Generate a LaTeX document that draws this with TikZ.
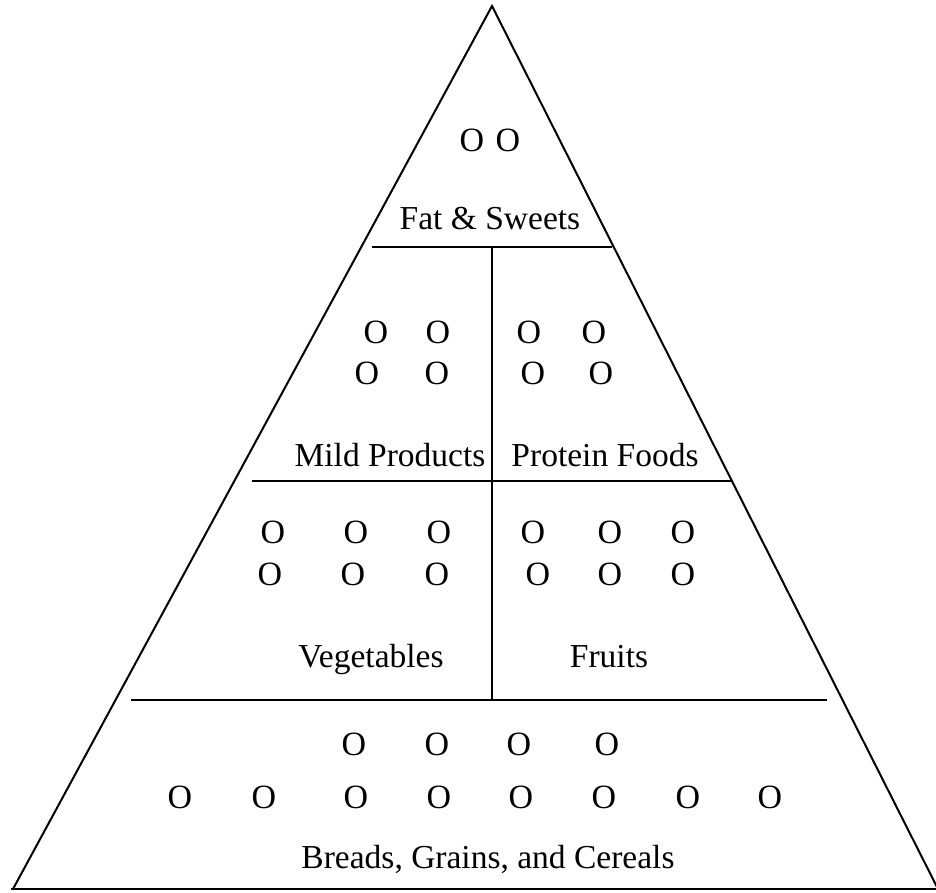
\documentclass[tikz,border=0pt]{standalone}
\usepackage{fontspec}
\setmainfont{Liberation Serif}
\begin{document}
\begin{tikzpicture}[x=1pt,y=-1pt,
  edge/.style={line width=2pt, line cap=butt},
  lbl/.style={inner sep=0pt, anchor=base, font=\fontsize{33.5}{40}\selectfont},
  oo/.style={inner sep=0pt, anchor=center, font=\fontsize{34}{40}\selectfont}]
\useasboundingbox (0,0) rectangle (936,892);
% triangle corners
\coordinate (apex) at (492,6);
\coordinate (bl) at (13,889);
\coordinate (br) at (938,889);
\coordinate (be) at (936,889);
\coordinate (bs) at (11,889);
\draw[edge, line join=miter] (bl) -- (apex) -- (br);
\draw[edge] (bs) -- (be);
% dividers
\coordinate (h1a) at (372,247); \coordinate (h1b) at (612,247);
\coordinate (h2a) at (252,481); \coordinate (h2b) at (733,481);
\coordinate (h3a) at (131,700); \coordinate (h3b) at (827,700);
\coordinate (v1) at (492,247); \coordinate (v2) at (492,700);
\draw[edge] (h1a) -- (h1b);
\draw[edge] (h2a) -- (h2b);
\draw[edge] (h3a) -- (h3b);
\draw[edge] (v1) -- (v2);
% top
\node[oo] (t1) at (472,140) {O};
\node[oo] (t2) at (508,140) {O};
\node[lbl] (fat) at (490,229) {Fat \& Sweets};
% row 2
\node[oo] (a1) at (376,332) {O};
\node[oo] (a2) at (438,332) {O};
\node[oo] (a3) at (367,373) {O};
\node[oo] (a4) at (437,373) {O};
\node[oo] (b1) at (529,332) {O};
\node[oo] (b2) at (594,332) {O};
\node[oo] (b3) at (533,373) {O};
\node[oo] (b4) at (601,373) {O};
\node[lbl] (mild) at (390,466) {Mild Products};
\node[lbl] (prot) at (605,466) {Protein Foods};
% row 3
\node[oo] (c1) at (273,532) {O};
\node[oo] (c2) at (356,532) {O};
\node[oo] (c3) at (439,532) {O};
\node[oo] (c4) at (270,574) {O};
\node[oo] (c5) at (353,574) {O};
\node[oo] (c6) at (437,574) {O};
\node[oo] (d1) at (533,532) {O};
\node[oo] (d2) at (610,532) {O};
\node[oo] (d3) at (683,532) {O};
\node[oo] (d4) at (538,574) {O};
\node[oo] (d5) at (610,574) {O};
\node[oo] (d6) at (683,574) {O};
\node[lbl] (veg) at (371,667) {Vegetables};
\node[lbl] (fru) at (609,667) {Fruits};
% row 4
\node[oo] (e1) at (354,744) {O};
\node[oo] (e2) at (437,744) {O};
\node[oo] (e3) at (519,744) {O};
\node[oo] (e4) at (607,744) {O};
\node[oo] (f1) at (180,797) {O};
\node[oo] (f2) at (264,797) {O};
\node[oo] (f3) at (356,797) {O};
\node[oo] (f4) at (439,797) {O};
\node[oo] (f5) at (521,797) {O};
\node[oo] (f6) at (604,797) {O};
\node[oo] (f7) at (688,797) {O};
\node[oo] (f8) at (770,797) {O};
\node[lbl] (brd) at (488,868) {Breads, Grains, and Cereals};
\end{tikzpicture}
\end{document}
